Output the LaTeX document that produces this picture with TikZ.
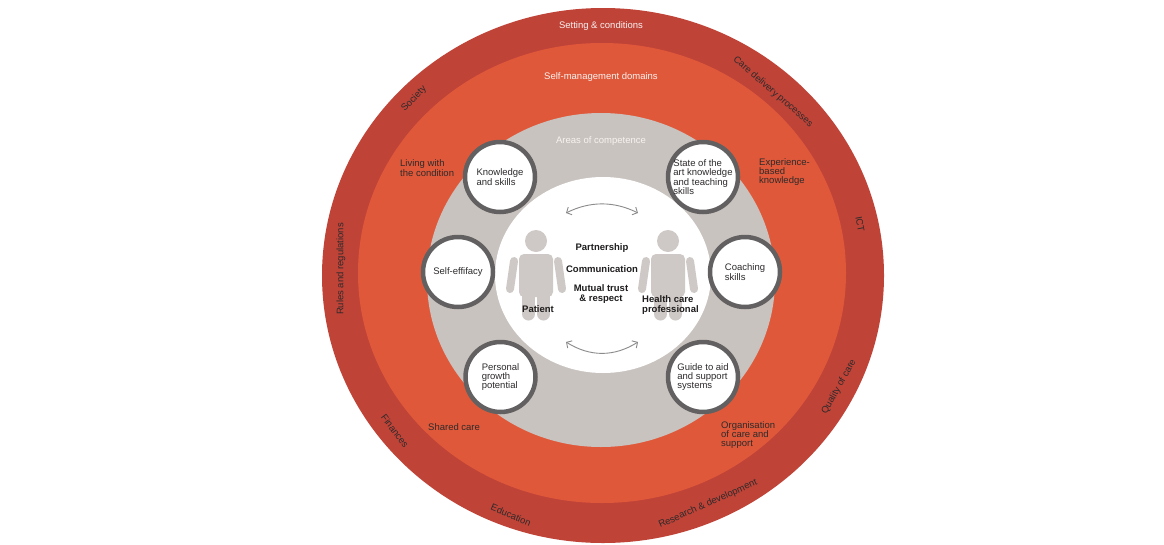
\documentclass[tikz,border=0pt]{standalone}
\usepackage{fontspec}
\setmainfont{Liberation Sans}
\usetikzlibrary{arrows.meta}
\definecolor{ringout}{RGB}{192,67,56}
\definecolor{ringmid}{RGB}{224,88,58}
\definecolor{ringgray}{RGB}{201,195,192}
\definecolor{bubc}{RGB}{98,96,96}
\definecolor{figc}{RGB}{206,201,198}
\definecolor{labelc}{RGB}{45,42,42}
\definecolor{ctrc}{RGB}{30,28,28}
\definecolor{wlc}{RGB}{248,242,240}
\definecolor{arrc}{RGB}{140,138,138}
\tikzset{
  basefont/.style={font=\fontsize{9.5}{9.3}\selectfont},
  lbl/.style={basefont, text=labelc, align=left, inner sep=0pt},
  wlbl/.style={basefont, text=wlc, inner sep=0pt},
  rlbl/.style={basefont, text=labelc, inner sep=0pt},
  ctr/.style={font=\bfseries\fontsize{9.5}{9.3}\selectfont, text=ctrc, align=center, inner sep=0pt},
  hcp/.style={font=\bfseries\fontsize{9.5}{9.3}\selectfont, text=ctrc, align=left, inner sep=0pt},
  bub/.style={circle, draw=bubc, line width=4.5pt, fill=white, minimum size=70pt,
              inner sep=0pt, align=left, basefont, text=labelc},
  arr/.style={draw=arrc, line width=0.9pt,
              {Straight Barb[length=4pt,width=8.5pt]}-{Straight Barb[length=4pt,width=8.5pt]}}
}
\newcommand\drawperson[1]{%
  \begin{scope}[shift={(#1,0)}]
    \fill[figc] (0,241) circle [radius=11];
    \fill[figc, rounded corners=5pt] (-17,254) rectangle (17,297);
    \draw[figc, line width=8pt, line cap=round] (-22,261) -- (-26,289);
    \draw[figc, line width=8pt, line cap=round] (22,261) -- (26,289);
    \draw[figc, line width=13pt, line cap=round] (-7.5,292) -- (-7.5,314);
    \draw[figc, line width=13pt, line cap=round] (7.5,292) -- (7.5,314);
  \end{scope}}
\begin{document}
\begin{tikzpicture}[x=1pt,y=-1pt]
\useasboundingbox (0,0) rectangle (1164,544);
\fill[white] (0,0) rectangle (1164,544);
% rings
\fill[ringout] (603,275.5) ellipse [x radius=281, y radius=267.5];
\fill[ringmid] (602,273) ellipse [x radius=244, y radius=230];
\fill[ringgray] (601,280) ellipse [x radius=174, y radius=167];
\fill[white] (603,275) ellipse [x radius=108, y radius=98];
% ring titles
\node[wlbl] (tset) at (601,26) {Setting \& conditions};
\node[wlbl] (tself) at (601,77.5) {Self-management domains};
\node[wlbl] (tarea) at (601,141) {Areas of competence};
% outer ring labels
\node[rlbl, rotate=46] (soc) at (414,99) {Society};
\node[rlbl, rotate=-41] (cdp) at (773,92) {Care delivery processes};
\node[rlbl, rotate=-79] (ict) at (860,224) {ICT};
\node[rlbl, rotate=61] (qoc) at (839,387) {Quality of care};
\node[rlbl, rotate=24] (rd) at (708,504) {Research \& development};
\node[rlbl, rotate=-23] (edu) at (511,515) {Education};
\node[rlbl, rotate=-53] (fin) at (395,431) {Finances};
\node[rlbl, rotate=90] (rr) at (341,269) {Rules and regulations};
% middle ring labels
\node[lbl, anchor=west] (lwc) at (400,168) {Living with\\the condition};
\node[lbl, anchor=west] (ebk) at (759,172) {Experience-\\based\\knowledge};
\node[lbl, anchor=west] (sc) at (428,427) {Shared care};
\node[lbl, anchor=west] (ocs) at (721,435) {Organisation\\of care and\\support};
% competence circles
\node[bub] (ks) at (500,177) {Knowledge\\and skills};
\node[bub] (sak) at (703,177) {State of the\\art knowledge\\and teaching\\skills};
\node[bub] (se) at (458,272) {Self-effifacy};
\node[bub] (cs) at (745,272) {Coaching\\skills};
\node[bub] (pgp) at (500.5,377) {Personal\\growth\\potential};
\node[bub] (gas) at (703,377) {Guide to aid\\and support\\systems};
% people
\drawperson{536}
\drawperson{668}
% centre texts
\node[ctr] (part) at (602,248) {Partnership};
\node[ctr] (comm) at (602,269) {Communication};
\node[ctr] (mtr) at (601,294) {Mutual trust\\\& respect};
\node[ctr] (pat) at (538,309) {Patient};
\node[hcp, anchor=west] (hcpl) at (642,305) {Health care\\professional};
% arrows
\coordinate (a1) at (566,213);
\coordinate (a2) at (638,213);
\coordinate (b1) at (566,342);
\coordinate (b2) at (638,342);
\draw[arr] (a1) .. controls (590,201) and (614,201) .. (a2);
\draw[arr] (b1) .. controls (590,357) and (614,357) .. (b2);
\end{tikzpicture}
\end{document}
